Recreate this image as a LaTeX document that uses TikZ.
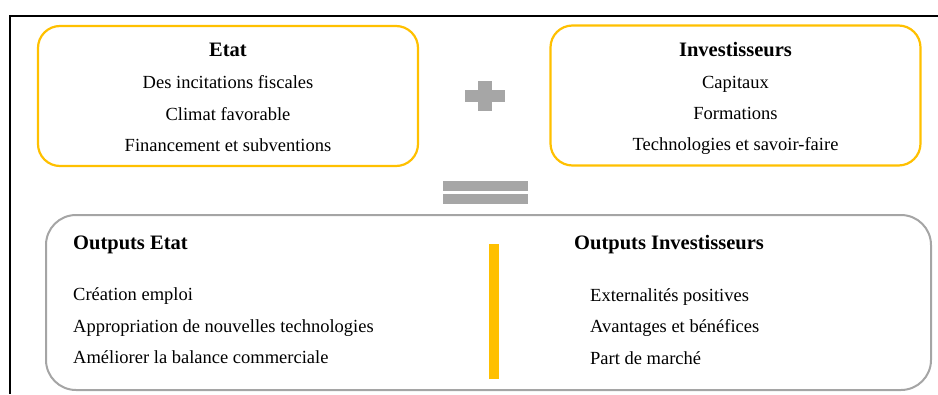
\documentclass[tikz,border=0pt]{standalone}
\usepackage{fontspec}
\setmainfont{Liberation Serif}
\definecolor{gold}{HTML}{FFC000}
\definecolor{signgray}{HTML}{A6A6A6}
\definecolor{framegray}{HTML}{A5A5A5}
\begin{document}
\begin{tikzpicture}[x=1pt, y=-1pt]
  \tikzstyle{inbox}=[draw=gold, line width=2.2pt, rounded corners=22pt, minimum width=380pt, minimum height=140pt, inner sep=0pt]
  \tikzstyle{outbox}=[draw=framegray, line width=2pt, rounded corners=30pt, minimum width=885pt, minimum height=175pt, inner sep=0pt]
  \tikzstyle{item}=[inner sep=0pt, anchor=base, font=\fontsize{18.5}{20}\selectfont]
  \tikzstyle{head}=[inner sep=0pt, anchor=base, font=\fontsize{20.5}{22}\selectfont\bfseries]
  \tikzstyle{lefthead}=[head, anchor=base west]
  \tikzstyle{leftitem}=[item, anchor=base west]

  \useasboundingbox (0,0) rectangle (938,394);

  % cadre
  \draw[line width=1.5pt] (938,16) -- (10,16) -- (10,394);

  % boites du haut
  \node[inbox] (etat) at (228,96) {};
  \node[inbox, minimum width=370pt] (inv) at (735.5,95.5) {};

  \node[head] (etatT) at (228,56) {Etat};
  \node[item] (etat1) at (228,88) {Des incitations fiscales};
  \node[item] (etat2) at (228,120.5) {Climat favorable};
  \node[item] (etat3) at (228,151.5) {Financement et subventions};

  \node[head] (invT) at (735.5,56) {Investisseurs};
  \node[item] (inv1) at (735.5,88) {Capitaux};
  \node[item] (inv2) at (735.5,119.5) {Formations};
  \node[item] (inv3) at (735.5,150.5) {Technologies et savoir-faire};

  % plus et egal
  \fill[signgray] (465,90) rectangle (505,101.5);
  \fill[signgray] (478,81) rectangle (492,111);
  \fill[signgray] (443,180.5) rectangle (528,190.5);
  \fill[signgray] (443,193.5) rectangle (528,203.5);

  % boite du bas
  \node[outbox] (out) at (488.5,302.5) {};
  \fill[gold] (489,244) rectangle (499,379);

  \node[lefthead] (outE) at (73,249) {Outputs Etat};
  \node[leftitem] (outE1) at (73,300.5) {Création emploi};
  \node[leftitem] (outE2) at (73,332) {Appropriation de nouvelles technologies};
  \node[leftitem] (outE3) at (73,363.5) {Améliorer la balance commerciale};

  \node[lefthead] (outI) at (574,249) {Outputs Investisseurs};
  \node[leftitem] (outI1) at (590,301) {Externalités positives};
  \node[leftitem] (outI2) at (590,332.5) {Avantages et bénéfices};
  \node[leftitem] (outI3) at (590,364) {Part de marché};
\end{tikzpicture}
\end{document}
